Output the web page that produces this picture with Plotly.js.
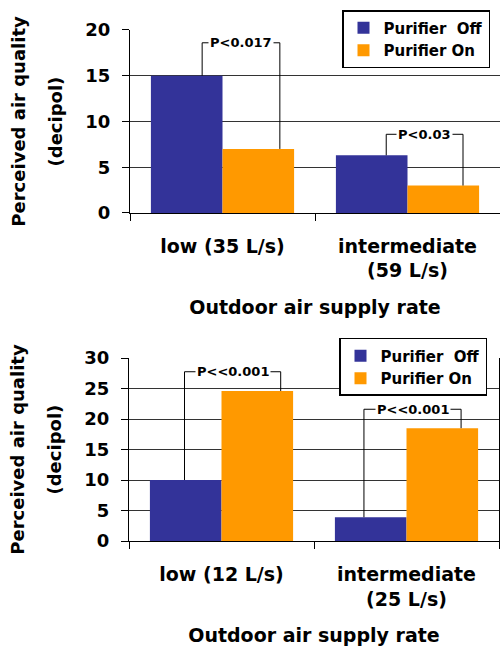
<!DOCTYPE html>
<html>
<head>
<meta charset="utf-8">
<script src="https://cdn.plot.ly/plotly-3.0.1.min.js"></script>
<style>html,body{margin:0;padding:0;background:#fff;}#chart{width:500px;height:646px;}</style>
</head>
<body>
<div id="chart"></div>
<script>
// ---- data ----
const categoriesA = ['low (35 L/s)', 'intermediate<br>(59 L/s)'];
const purifierOffA = [15, 6.3];
const purifierOnA = [7, 3];
const pLabelsA = ['P<0.017', 'P<0.03'];

const categoriesB = ['low (12 L/s)', 'intermediate<br>(25 L/s)'];
const purifierOffB = [10, 3.9];
const purifierOnB = [24.6, 18.5];
const pLabelsB = ['P<<0.001', 'P<<0.001'];

const yTicksA = [0, 5, 10, 15, 20];
const yTicksB = [0, 5, 10, 15, 20, 25, 30];
const seriesNames = ['Purifier  Off', 'Purifier On'];
const yTitleLine1 = 'Perceived air quality';
const yTitleLine2 = '(decipol)';
const xTitle = 'Outdoor air supply rate';

// ---- styles ----
const COL_OFF = '#333399';
const COL_ON = '#FF9900';
const FONT = 'DejaVu Sans';
// bracket geometry (category-index offsets and bracket top heights)
const bracketA = {left: [-0.11, -0.115], right: [0.31, 0.30], top: [18.6, 8.6]};
const bracketB = {left: [-0.20, -0.23], right: [0.32, 0.295], top: [27.75, 21.6]};

function esc(s) { return s.replace(/</g, '&lt;'); }

const traces = [
  {type: 'bar', name: seriesNames[0], x: categoriesA, y: purifierOffA, marker: {color: COL_OFF}, xaxis: 'x', yaxis: 'y', legend: 'legend'},
  {type: 'bar', name: seriesNames[1], x: categoriesA, y: purifierOnA, marker: {color: COL_ON}, xaxis: 'x', yaxis: 'y', legend: 'legend'},
  {type: 'bar', name: seriesNames[0], x: categoriesB, y: purifierOffB, marker: {color: COL_OFF}, xaxis: 'x2', yaxis: 'y2', legend: 'legend2'},
  {type: 'bar', name: seriesNames[1], x: categoriesB, y: purifierOnB, marker: {color: COL_ON}, xaxis: 'x2', yaxis: 'y2', legend: 'legend2'}
];

const shapes = [];
const annotations = [];
function addBrackets(xr, yr, off, on, br, labels) {
  for (let i = 0; i < off.length; i++) {
    const xl = i + br.left[i], xrr = i + br.right[i], yt = br.top[i];
    const line = {color: '#000', width: 1};
    shapes.push({type: 'line', xref: xr, yref: yr, x0: xl, x1: xl, y0: off[i], y1: yt, line});
    shapes.push({type: 'line', xref: xr, yref: yr, x0: xl, x1: xrr, y0: yt, y1: yt, line});
    shapes.push({type: 'line', xref: xr, yref: yr, x0: xrr, x1: xrr, y0: yt, y1: on[i], line});
    annotations.push({xref: xr, yref: yr, x: (xl + xrr) / 2, y: yt, text: esc(labels[i]),
      showarrow: false, bgcolor: '#fff', borderpad: 1,
      font: {family: FONT, size: 13, color: '#000', weight: 'bold'}});
  }
}
addBrackets('x', 'y', purifierOffA, purifierOnA, bracketA, pLabelsA);
addBrackets('x2', 'y2', purifierOffB, purifierOnB, bracketB, pLabelsB);

const yTickFont = {family: FONT, size: 18, color: '#000', weight: 'bold'};
const xTickFont = {family: FONT, size: 19, color: '#000', weight: 'bold'};
const xTitleFont = {family: FONT, size: 19, color: '#000', weight: 'bold'};
const yTitleFont = {family: FONT, size: 18, color: '#000', weight: 'bold'};

// second line of the y-axis title, placed as rotated text
function addYTitleLine2(yDomainCenter) {
  annotations.push({xref: 'paper', yref: 'paper', x: 55 / 500, y: yDomainCenter, text: yTitleLine2,
    textangle: -90, showarrow: false, xanchor: 'center', yanchor: 'middle',
    font: yTitleFont});
}

function xAxis(domain, anchor) {
  return {domain, anchor, type: 'category', range: [-0.5, 1.5],
    showline: true, linecolor: '#000', linewidth: 1, mirror: false,
    ticks: 'outside', tickson: 'boundaries', ticklen: 7, tickcolor: '#000',
    tickfont: xTickFont, ticklabelstandoff: 16, showgrid: false,
    title: {text: xTitle, font: xTitleFont, standoff: 20}};
}
function yAxis(domain, anchor, range, ticks, mirror) {
  return {domain, anchor, range, tickvals: ticks, ticktext: ticks.map(String),
    showline: true, linecolor: '#000', linewidth: 1, mirror: mirror ? true : false,
    ticks: 'outside', ticklen: 7, tickcolor: '#000', tickfont: yTickFont, ticklabelstandoff: 8,
    showgrid: true, gridcolor: '#333', gridwidth: 1, zeroline: false,
    title: {text: yTitleLine1, font: yTitleFont, standoff: 55}};
}

const legendStyle = {bgcolor: '#fff', bordercolor: '#000', borderwidth: 1.5,
  font: {family: FONT, size: 15, weight: 'bold'}, traceorder: 'normal', xanchor: 'right', yanchor: 'top'};

const domA = [0.6703, 0.9536];
const domB = [0.1625, 0.4458];
addYTitleLine2((domA[0] + domA[1]) / 2);
addYTitleLine2((domB[0] + domB[1]) / 2);

const layout = {
  width: 500, height: 646,
  margin: {l: 0, r: 0, t: 0, b: 0},
  paper_bgcolor: '#fff', plot_bgcolor: '#fff',
  font: {family: FONT, color: '#000'},
  barmode: 'group', bargap: 0.226, bargroupgap: 0,
  xaxis: xAxis([0.26, 1.0], 'y'),
  yaxis: yAxis(domA, 'x', [0, 20], yTicksA, false),
  xaxis2: xAxis([0.258, 0.998], 'y2'),
  yaxis2: yAxis(domB, 'x2', [0, 30], yTicksB, true),
  legend: Object.assign({x: 0.98, y: 0.9845}, legendStyle),
  legend2: Object.assign({x: 0.974, y: 0.4768}, legendStyle),
  shapes, annotations,
  showlegend: true
};

Plotly.newPlot('chart', traces, layout, {displayModeBar: false, staticPlot: true});
</script>
</body>
</html>
